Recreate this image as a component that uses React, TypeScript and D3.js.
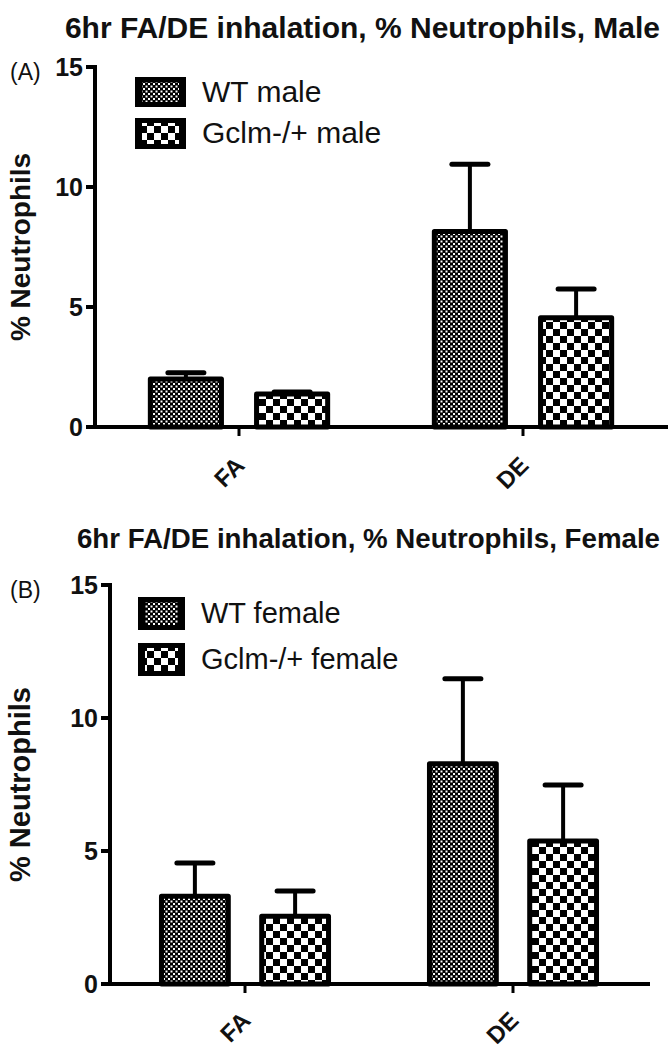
import React from "react";
import * as d3 from "d3";

const categories = ["FA", "DE"];
const seriesKeys = ["WT", "Gclm"];
const yTicks = [0, 5, 10, 15];

const maleTitle = "6hr FA/DE inhalation, % Neutrophils, Male";
const femaleTitle = "6hr FA/DE inhalation, % Neutrophils, Female";
const maleLegend = ["WT male", "Gclm-/+ male"];
const femaleLegend = ["WT female", "Gclm-/+ female"];

const maleWT = [2.0, 8.15];
const maleWTErr = [0.26, 2.8];
const maleGclm = [1.38, 4.55];
const maleGclmErr = [0.08, 1.2];

const femaleWT = [3.3, 8.28];
const femaleWTErr = [1.25, 3.2];
const femaleGclm = [2.55, 5.38];
const femaleGclmErr = [0.95, 2.1];

const FONT = "'Liberation Sans', Arial, Helvetica, sans-serif";

type PanelProps = {
  tag: string;
  title: string;
  titleSize: number;
  titleBaseline: number;
  legend: string[];
  values: number[][];
  errors: number[][];
  axisX: number;
  xRange: [number, number];
  xEnd: number;
  yRange: [number, number];
  tagBaseline: number;
  legendX: number;
  legendW: number;
  legendRows: [number, number][];
  legendBaselines: number[];
  legendFont: number;
  yLabelSize: number;
  tickFont: number;
  tickLabelX: number;
  xLabelDy: number;
};

function Panel(p: PanelProps) {
  const x0 = d3.scaleBand<string>().domain(categories).range(p.xRange).padding(0);
  const step = x0.step();
  const x1 = d3.scalePoint<string>().domain(seriesKeys).range([-0.187 * step, 0.187 * step]);
  const barOuter = 0.268 * step;
  const sw = 5;
  const y = d3.scaleLinear().domain([0, 15]).range(p.yRange);
  const y0 = y(0);
  const pats = ["url(#wtPat)", "url(#gcPat)"];
  const yMid = (p.yRange[0] + p.yRange[1]) / 2;

  return (
    <g>
      <text x={660} y={p.titleBaseline} textAnchor="end" fontFamily={FONT} fontWeight="bold" fontSize={p.titleSize} fill="#111">
        {p.title}
      </text>
      <text x={10} y={p.tagBaseline} fontFamily={FONT} fontSize={23} fill="#111">
        {p.tag}
      </text>
      <text
        transform={`translate(${30},${yMid}) rotate(-90)`}
        textAnchor="middle"
        fontFamily={FONT}
        fontWeight="bold"
        fontSize={p.yLabelSize}
        fill="#111"
      >
        % Neutrophils
      </text>
      {/* y axis */}
      <line x1={p.axisX} x2={p.axisX} y1={y(15) - 2} y2={y0 + 2} stroke="#000" strokeWidth={4} />
      {yTicks.map((t) => (
        <g key={t}>
          <line x1={p.axisX - 9} x2={p.axisX} y1={y(t)} y2={y(t)} stroke="#000" strokeWidth={4} />
          <text
            x={p.tickLabelX}
            y={y(t)}
            dy="0.36em"
            textAnchor="end"
            fontFamily={FONT}
            fontWeight="bold"
            fontSize={p.tickFont}
            fill="#111"
          >
            {t}
          </text>
        </g>
      ))}
      {/* error bars */}
      {categories.map((c, ci) =>
        seriesKeys.map((s, si) => {
          const cx = (x0(c) as number) + step / 2 + (x1(s) as number);
          const v = p.values[si][ci];
          const e = p.errors[si][ci];
          return (
            <g key={c + s + "err"}>
              <line x1={cx} x2={cx} y1={y(v)} y2={y(v + e)} stroke="#000" strokeWidth={4} />
              <line x1={cx - 18} x2={cx + 18} y1={y(v + e)} y2={y(v + e)} stroke="#000" strokeWidth={5} strokeLinecap="round" />
            </g>
          );
        })
      )}
      {/* bars */}
      {categories.map((c, ci) =>
        seriesKeys.map((s, si) => {
          const cx = (x0(c) as number) + step / 2 + (x1(s) as number);
          const v = p.values[si][ci];
          const w = barOuter - sw;
          return (
            <rect
              key={c + s}
              x={cx - w / 2}
              y={y(v)}
              width={w}
              height={y0 - y(v)}
              fill={pats[si]}
              stroke="#000"
              strokeWidth={sw}
              strokeLinejoin="round"
            />
          );
        })
      )}
      {/* x axis */}
      <line x1={p.axisX - 2} x2={p.xEnd} y1={y0} y2={y0} stroke="#000" strokeWidth={4} />
      {categories.map((c) => {
        const cx = (x0(c) as number) + step / 2;
        return (
          <g key={c}>
            <line x1={cx} x2={cx} y1={y0} y2={y0 + 9} stroke="#000" strokeWidth={3} />
            <text
              transform={`translate(${cx + 7},${y0 + p.xLabelDy}) rotate(-45)`}
              textAnchor="end"
              fontFamily={FONT}
              fontWeight="bold"
              fontSize={24}
              fill="#111"
            >
              {c}
            </text>
          </g>
        );
      })}
      {/* legend */}
      {p.legend.map((l, i) => {
        const [t, b] = p.legendRows[i];
        return (
          <g key={l}>
            <rect x={p.legendX} y={t} width={p.legendW} height={b - t} fill="#000" />
            <rect x={p.legendX + 7} y={t + 5} width={p.legendW - 14} height={b - t - 10} fill={pats[i]} />
            <text x={p.legendX + p.legendW + 16} y={p.legendBaselines[i]} fontFamily={FONT} fontSize={p.legendFont} fill="#111">
              {l}
            </text>
          </g>
        );
      })}
    </g>
  );
}

export default function App() {
  return (
    <svg width={672} height={1050} style={{ position: "absolute", left: 0, top: 0, background: "#fff" }}>
      <defs>
        <pattern id="wtPat" patternUnits="userSpaceOnUse" width={5} height={5}>
          <rect width={5} height={5} fill="#000" />
          <rect x={0.5} y={0.5} width={2} height={2} fill="#fff" />
          <rect x={3} y={3} width={2} height={2} fill="#fff" />
        </pattern>
        <pattern id="gcPat" patternUnits="userSpaceOnUse" width={14} height={14}>
          <rect width={14} height={14} fill="#fff" />
          <rect x={0} y={0} width={7} height={7} fill="#000" />
          <rect x={7} y={7} width={7} height={7} fill="#000" />
        </pattern>
      </defs>
      <rect width={672} height={1050} fill="#fff" />
      <Panel
        tag="(A)"
        title={maleTitle}
        titleSize={30}
        titleBaseline={38}
        legend={maleLegend}
        values={[maleWT, maleGclm]}
        errors={[maleWTErr, maleGclmErr]}
        axisX={95}
        xRange={[97, 665]}
        xEnd={668}
        yRange={[427, 67]}
        tagBaseline={80}
        legendX={135}
        legendW={51}
        legendRows={[[77, 107], [118, 149]]}
        legendBaselines={[102, 143]}
        legendFont={30}
        yLabelSize={28}
        tickFont={25}
        tickLabelX={83}
        xLabelDy={40}
      />
      <Panel
        tag="(B)"
        title={femaleTitle}
        titleSize={27.7}
        titleBaseline={548}
        legend={femaleLegend}
        values={[femaleWT, femaleGclm]}
        errors={[femaleWTErr, femaleGclmErr]}
        axisX={110}
        xRange={[111, 647]}
        xEnd={650}
        yRange={[984, 585]}
        tagBaseline={598}
        legendX={138}
        legendW={47}
        legendRows={[[597, 630], [643, 676]]}
        legendBaselines={[623, 669]}
        legendFont={29}
        yLabelSize={29}
        tickFont={25}
        tickLabelX={98}
        xLabelDy={38}
      />
    </svg>
  );
}
